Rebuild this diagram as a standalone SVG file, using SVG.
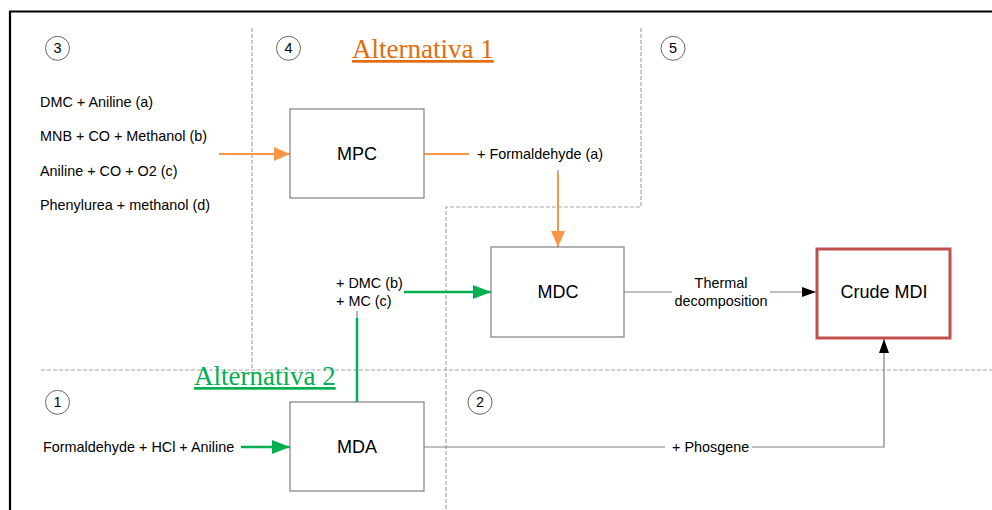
<svg xmlns="http://www.w3.org/2000/svg" width="992" height="510" viewBox="0 0 992 510">
<style>
.t{font-family:"Liberation Sans",Arial,sans-serif;font-size:14.4px;fill:#000}
.big{font-family:"Liberation Sans",Arial,sans-serif;font-size:18px;fill:#000}
.alt{font-family:"Liberation Serif","Times New Roman",serif;font-size:27px;text-decoration:underline}
.box{fill:#fff;stroke:#808080;stroke-width:1.2}
.dash{fill:none;stroke:#a6a6a6;stroke-width:1.2;stroke-dasharray:4 2}
.num{fill:#fff;stroke:#404040;stroke-width:0.8}
.gray{fill:none;stroke:#808080;stroke-width:1.2}
.or{fill:none;stroke:#f79646;stroke-width:2}
.gr{fill:none;stroke:#00b050;stroke-width:2.5}
</style>
<defs>
<marker id="ao" markerUnits="userSpaceOnUse" markerWidth="16" markerHeight="14" refX="16" refY="7" orient="auto"><path d="M0,0 L16,7 L0,14 z" fill="#f79646"/></marker>
<marker id="ag" markerUnits="userSpaceOnUse" markerWidth="18" markerHeight="14" refX="18" refY="7" orient="auto"><path d="M0,0 L18,7 L0,14 z" fill="#00b050"/></marker>
<marker id="ab" markerUnits="userSpaceOnUse" markerWidth="14" markerHeight="10" refX="14" refY="5" orient="auto"><path d="M0,0 L14,5 L0,10 z" fill="#000"/></marker>
</defs>
<rect width="992" height="510" fill="#fff"/>
<g id="frame">
<path d="M10,520 L10,11.5 L1000,11.5" fill="none" stroke="#000" stroke-width="2.2"/>
</g>
<g id="regions">
<path class="dash" d="M252,28 L252,370"/>
<path class="dash" d="M41,370 L992,370"/>
<path class="dash" d="M641,28 L641,207 L446,207 L446,510"/>
<g id="n3"><circle class="num" cx="57.5" cy="48.3" r="12"/><text class="t" x="57.5" y="53" text-anchor="middle" font-size="13">3</text></g>
<g id="n4"><circle class="num" cx="288.5" cy="48.3" r="12"/><text class="t" x="288.5" y="53" text-anchor="middle" font-size="13">4</text></g>
<g id="n5"><circle class="num" cx="673" cy="48.3" r="12"/><text class="t" x="673" y="53" text-anchor="middle" font-size="13">5</text></g>
<g id="n1"><circle class="num" cx="57.5" cy="402.3" r="12"/><text class="t" x="57.5" y="407" text-anchor="middle" font-size="13">1</text></g>
<g id="n2"><circle class="num" cx="480" cy="402.3" r="12"/><text class="t" x="480" y="407" text-anchor="middle" font-size="13">2</text></g>
</g>
<g id="labels">
<text class="alt" x="352" y="58" fill="#e46c0a">Alternativa 1</text>
<text class="alt" x="194" y="385" fill="#00b050">Alternativa 2</text>
<text class="t" x="40" y="107">DMC + Aniline (a)</text>
<text class="t" x="40" y="141">MNB + CO + Methanol (b)</text>
<text class="t" x="40" y="176">Aniline + CO + O2 (c)</text>
<text class="t" x="40" y="210">Phenylurea + methanol (d)</text>
<text class="t" x="43" y="452">Formaldehyde + HCl + Aniline</text>
<text class="t" x="477" y="159">+ Formaldehyde (a)</text>
<text class="t" x="336" y="288">+ DMC (b)</text>
<text class="t" x="336" y="306">+ MC (c)</text>
<text class="t" x="721" y="288" text-anchor="middle">Thermal</text>
<text class="t" x="721" y="306" text-anchor="middle">decomposition</text>
<text class="t" x="672" y="452">+ Phosgene</text>
</g>
<g id="connectors">
<path class="or" d="M219,154 L290,154" marker-end="url(#ao)"/>
<path class="or" d="M424,154 L469,154"/>
<path class="gray" d="M558,170 L558,174"/>
<path class="or" d="M558,174 L558,247" marker-end="url(#ao)"/>
<path class="gr" d="M404,292 L491,292" marker-end="url(#ag)"/>
<path class="gray" d="M357,311 L357,318"/>
<path class="gr" d="M357,318 L357,402"/>
<path class="gr" d="M241,447 L290,447" marker-end="url(#ag)"/>
<path class="gray" d="M624,292 L672,292"/>
<path class="gray" d="M770,292 L816,292" marker-end="url(#ab)"/>
<path class="gray" d="M424,447 L665,447"/>
<path class="gray" d="M752,447 L884,447 L884,339" marker-end="url(#ab)"/>
</g>
<g id="MPC"><rect class="box" x="290" y="109" width="134" height="89"/><text class="big" x="357" y="160" text-anchor="middle">MPC</text></g>
<g id="MDC"><rect class="box" x="491" y="247" width="133" height="90"/><text class="big" x="558" y="298" text-anchor="middle">MDC</text></g>
<g id="MDA"><rect class="box" x="290" y="402" width="134" height="89"/><text class="big" x="357" y="453" text-anchor="middle">MDA</text></g>
<g id="CrudeMDI"><rect x="817" y="249" width="133" height="89" fill="#fff" stroke="#c0504d" stroke-width="3"/><text class="big" x="884" y="298" text-anchor="middle">Crude MDI</text></g>
</svg>
